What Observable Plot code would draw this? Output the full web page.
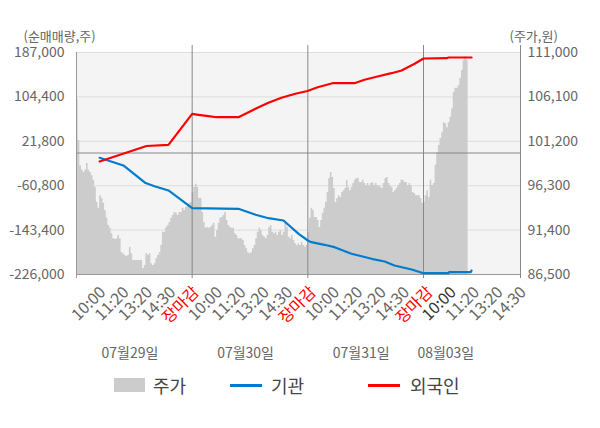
<!DOCTYPE html>
<html><head><meta charset="utf-8">
<script src="https://cdn.jsdelivr.net/npm/d3@7"></script>
<script src="https://cdn.jsdelivr.net/npm/@observablehq/plot@0.6"></script>
<style>
body{margin:0;background:#fff;font-family:"Noto Sans CJK KR","Noto Sans",sans-serif;}
#wrap{width:600px;}
#legend{position:relative;width:600px;height:63px;font-size:18px;color:#444;}
#legend div{position:absolute;}
#legend .lab{top:8px;height:24px;line-height:24px;white-space:nowrap;}
</style></head><body>
<div id="wrap"></div>
<div id="legend">
  <div style="left:114px;top:13px;width:31px;height:14px;background:#cccccc"></div>
  <div class="lab" style="left:153px">주가</div>
  <div style="left:230px;top:19px;width:32px;height:3px;background:#007ccf"></div>
  <div class="lab" style="left:271px">기관</div>
  <div style="left:368px;top:19px;width:32px;height:3px;background:#ff0000"></div>
  <div class="lab" style="left:410px">외국인</div>
</div>
<script>
// ---- data ----
const leftTicks = [-226000, -143400, -60800, 21800, 104400, 187000];
const rightTicks = [86500, 91400, 96300, 101200, 106100, 111000];
const dates = ["07월29일", "07월30일", "07월31일", "08월03일"];
const timeLabels = ["10:00","11:20","13:20","14:30","장마감","10:00","11:20","13:20","14:30","장마감","10:00","11:20","13:20","14:30","장마감","10:00","11:20","13:20","14:30"];

// price (주가, 원) samples per trading day
const priceDay1 = [105800,101300,98500,98000,97750,98000,98750,98000,97750,97400,96900,96100,94450,93800,95200,94900,94350,93550,92700,91900,91600,91000,90450,90350,90450,90800,90450,88900,88800,88600,88500,88600,89500,88800,88050,88050,88050,88050,88050,88050,87150,87500,88800,88600,88800,87700,87500,87700,88250,88600,88900,89700,91150,91150,91700,91900,92250,92700,93000,93350,93250,93000,93350,93350,93800,93550,93900,94100,94350,94450];
const priceDay2 = [95550,96100,96450,96100,94900,94900,93350,92250,91600,91700,91600,91700,91900,92150,90600,91350,92150,92700,92800,93000,93350,92450,91900,91700,91600,91600,91000,90800,90450,90450,90450,90250,89700,89350,88900,88800,88900,89350,89700,90450,91150,91600,91350,90800,90600,90450,90800,91700,91900,91150,91000,91150,90800,91150,91350,90800,91150,92150,91700,90600,90450,90800,90250,89900,89700,89900,89700,90050,89700,89500,89700];
const priceDay3 = [91150,92700,93800,93550,92800,92800,92450,91700,92450,93250,93800,94450,95550,97100,97750,97200,96000,94450,94900,95200,95000,95550,95750,96000,96900,96100,95750,96100,96550,96900,97100,97100,96650,96650,96900,96550,96300,96550,96300,96550,96650,96300,96550,96300,96300,96100,96000,96550,97100,97200,96550,96300,96100,95550,95750,96000,96300,96550,96900,96900,96650,96650,96300,96550,96300,95550,95450,95200,95200,95200,94900,94350];
const priceDay4 = [94450,95200,95750,95000,96900,96300,96550,98550,99950,100750,101500,102150,103250,103150,102700,103250,103850,104800,106600,107050,107050,107350,108150,109000,110100,110550,110100,109900];

// cumulative net buying (순매매량, 주); time = minutes from first session start
const foreignT = [78,236,310,390,411,445,472,546,580,614,647,691,738,779,813,863,937,971,1015,1062,1096,1140,1170,1248,1254,1332];
const foreignV = [-15800,13050,15300,72950,71100,68500,66600,66600,75900,85200,93400,102700,110200,115400,122400,129900,129900,136200,142350,148500,153500,166000,175800,176400,177700,177700];
const instT = [78,158,233,263,310,390,546,604,647,698,749,780,792,836,870,927,995,1039,1072,1130,1170,1254,1256,1329,1332];
const instV = [-8900,-23200,-55800,-61700,-69700,-102650,-103800,-114950,-121250,-125550,-150300,-162750,-165900,-170750,-175200,-187500,-196800,-201800,-209250,-216700,-223600,-223600,-221700,-221700,-218550];

// ---- build ----
const DAY = 390;          // minutes per session slot
const XMAX = 1497;        // visible x extent
const L0 = leftTicks[0], L1 = leftTicks[leftTicks.length-1];
const R0 = rightTicks[0], R1 = rightTicks[rightTicks.length-1];
const toLeft = p => L0 + (p - R0) * (L1 - L0) / (R1 - R0);

const days = [priceDay1, priceDay2, priceDay3, priceDay4];
const priceData = days.flatMap((arr, d) => {
  const n = d < 3 ? arr.length : 70;
  return arr.map((p, i) => ({t: d*DAY + i*DAY/n, p}));
});
const lastT = priceData[priceData.length-1].t;
const foreign = foreignT.map((t, i) => ({t, v: foreignV[i]}));
const inst = instT.map((t, i) => ({t, v: instV[i]}));

const tl = timeLabels.map((s, i) => ({
  s, t: (i+1) * XMAX / timeLabels.length,
  c: s === "장마감" ? "#ff0000" : (i === 15 ? "#333333" : "#666666")
}));
const dl = dates.map((s, d) => ({s, t: d < 3 ? d*DAY + DAY/2 - 15 : (d*DAY + lastT)/2}));
const bounds = [1, 2, 3].map(d => d*DAY);
const fmt = d => d.toLocaleString("en-US");

const chart = Plot.plot({
  width: 600, height: 365,
  marginLeft: 76, marginRight: 80, marginTop: 52, marginBottom: 91,
  x: {domain: [0, XMAX], axis: null},
  y: {domain: [L0, L1], axis: null},
  color: {type: "identity"},
  style: {fontFamily: '"Noto Sans CJK KR","Noto Sans",sans-serif', fontSize: "14px", color: "#666", background: "transparent", overflow: "visible"},
  marks: [
    Plot.frame({fill: "#f4f4f4", stroke: "none"}),
    Plot.ruleY(leftTicks.slice(1), {stroke: "#dddddd"}),
    Plot.areaY(priceData, {x: "t", y1: L0, y2: d => toLeft(d.p), fill: "#cccccc", curve: "step-after"}),
    Plot.ruleY([0], {stroke: "#888888"}),
    Plot.ruleY([L0], {stroke: "#999999"}),
    Plot.ruleX([0], {stroke: "#999999", insetBottom: -4}),
    Plot.ruleX([...bounds, XMAX], {stroke: "#888888", insetTop: -7, insetBottom: -4}),
    Plot.line(inst, {x: "t", y: "v", stroke: "#007ccf", strokeWidth: 2.2}),
    Plot.line(foreign, {x: "t", y: "v", stroke: "#ff0000", strokeWidth: 2.2}),
    Plot.axisY(leftTicks, {anchor: "left", label: null, tickSize: 0, tickPadding: 12, tickFormat: fmt, fontSize: 14}),
    Plot.axisY(leftTicks, {anchor: "right", label: null, tickSize: 0, tickPadding: 7, tickFormat: d => fmt(rightTicks[leftTicks.indexOf(d)]), fontSize: 14}),
    Plot.text(["(순매매량,주)"], {text: d => d, frameAnchor: "top-left", dx: -53, dy: -21, textAnchor: "start", fontSize: 13}),
    Plot.text(["(주가,원)"], {text: d => d, frameAnchor: "top-right", dx: -11, dy: -21, textAnchor: "start", fontSize: 13}),
    Plot.text(tl, {x: "t", y: L0, text: "s", fill: "c", rotate: -45, textAnchor: "end", dy: 15, dx: 3, fontSize: 16}),
    Plot.text(dl, {x: "t", y: L0, text: "s", dy: 79, fontSize: 14, fill: "#666666"})
  ]
});
document.getElementById("wrap").appendChild(chart);
</script>
</body></html>
